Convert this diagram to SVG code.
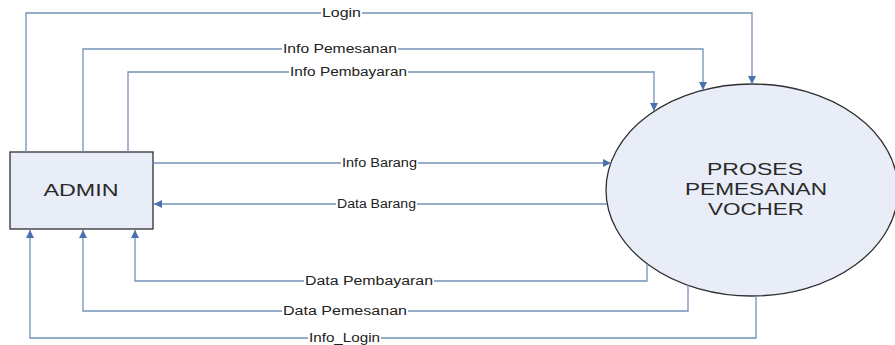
<svg xmlns="http://www.w3.org/2000/svg" width="895" height="345" viewBox="0 0 895 345">
<style>
.bg{fill:#ffffff}
.flow{fill:none;stroke:#7391b8;stroke-width:1.3}
.lblbg{fill:#ffffff}
.lbl{font-family:"Liberation Sans",Arial,sans-serif;font-size:12px;fill:#222;text-anchor:middle}
.node{fill:#e8edf7;stroke:#2e2e2e;stroke-width:1.3}
.ntext{font-family:"Liberation Sans",Arial,sans-serif;font-size:17px;fill:#2a2a2a;text-anchor:middle}
</style>
<defs>
<marker id="arr" viewBox="0 0 10 10" refX="10" refY="5" markerWidth="8" markerHeight="8" markerUnits="userSpaceOnUse" orient="auto">
<path d="M0,0 L10,5 L0,10 z" fill="#4a70ad"/>
</marker>
</defs>
<rect class="bg" x="0" y="0" width="895" height="345"/>
<g id="proses">
<ellipse class="node" cx="752" cy="190" rx="146" ry="106"/>
<text class="ntext" x="755" y="175" textLength="96" lengthAdjust="spacingAndGlyphs">PROSES</text>
<text class="ntext" x="756" y="195" textLength="142" lengthAdjust="spacingAndGlyphs">PEMESANAN</text>
<text class="ntext" x="756" y="215" textLength="96" lengthAdjust="spacingAndGlyphs">VOCHER</text>
</g>
<g id="admin">
<rect class="node" x="10" y="152" width="143" height="77"/>
<text class="ntext" x="81" y="196" textLength="75" lengthAdjust="spacingAndGlyphs">ADMIN</text>
</g>
<g id="connectors">
<path class="flow" d="M26,152 V13 H752 V84" marker-end="url(#arr)"/>
<path class="flow" d="M83,152 V49 H703 V90" marker-end="url(#arr)"/>
<path class="flow" d="M128,152 V72 H654 V111" marker-end="url(#arr)"/>
<path class="flow" d="M153,163 H611" marker-end="url(#arr)"/>
<path class="flow" d="M607,204 H154" marker-end="url(#arr)"/>
<path class="flow" d="M647,264 V281 H135 V230" marker-end="url(#arr)"/>
<path class="flow" d="M688,285 V311 H83 V230" marker-end="url(#arr)"/>
<path class="flow" d="M756,296 V338 H30 V230" marker-end="url(#arr)"/>
<g id="labels">
<rect class="lblbg" x="321" y="7" width="41" height="12"/>
<text class="lbl" x="341.5" y="17" textLength="39" lengthAdjust="spacingAndGlyphs">Login</text>
<rect class="lblbg" x="282" y="43" width="116" height="12"/>
<text class="lbl" x="340" y="53" textLength="114" lengthAdjust="spacingAndGlyphs">Info Pemesanan</text>
<rect class="lblbg" x="289" y="66" width="119" height="12"/>
<text class="lbl" x="348.5" y="76" textLength="117" lengthAdjust="spacingAndGlyphs">Info Pembayaran</text>
<rect class="lblbg" x="341" y="157" width="77" height="12"/>
<text class="lbl" x="379.5" y="167" textLength="75" lengthAdjust="spacingAndGlyphs">Info Barang</text>
<rect class="lblbg" x="336" y="198" width="81" height="12"/>
<text class="lbl" x="376.5" y="208" textLength="79" lengthAdjust="spacingAndGlyphs">Data Barang</text>
<rect class="lblbg" x="304" y="275" width="130" height="12"/>
<text class="lbl" x="369" y="285" textLength="128" lengthAdjust="spacingAndGlyphs">Data Pembayaran</text>
<rect class="lblbg" x="282" y="305" width="126" height="12"/>
<text class="lbl" x="345" y="315" textLength="124" lengthAdjust="spacingAndGlyphs">Data Pemesanan</text>
<rect class="lblbg" x="308" y="332" width="73" height="12"/>
<text class="lbl" x="344.5" y="341.5" textLength="71" lengthAdjust="spacingAndGlyphs">Info_Login</text>
</g>
</g>
</svg>
